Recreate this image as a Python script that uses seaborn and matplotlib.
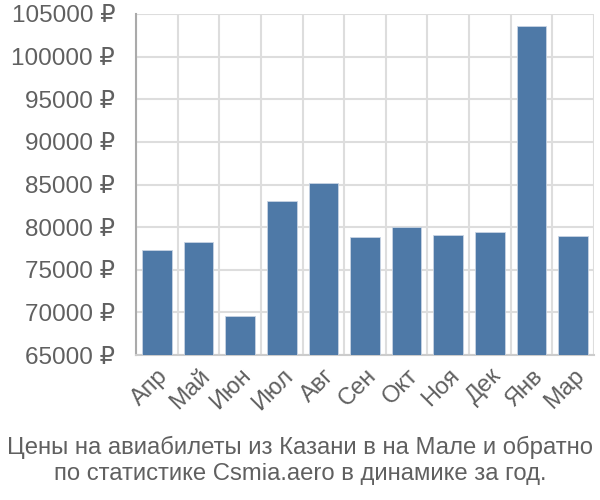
import matplotlib
matplotlib.use("Agg")
import matplotlib.pyplot as plt
import seaborn as sns
import pandas as pd
from matplotlib.ticker import FixedLocator

months = ["Апр", "Май", "Июн", "Июл", "Авг", "Сен", "Окт", "Ноя", "Дек", "Янв", "Мар"]
prices = [77300, 78270, 69540, 83040, 85120, 78860, 79960, 79130, 79400, 103600, 78970]
yticks = [65000, 70000, 75000, 80000, 85000, 90000, 95000, 100000, 105000]
title_lines = ["Цены на авиабилеты из Казани в на Мале и обратно",
               "по статистике Csmia.aero в динамике за год."]

sns.set_style("white")
plt.rcParams['font.family'] = ['Liberation Sans', 'DejaVu Sans']

df = pd.DataFrame({"month": months, "price": prices})

fig = plt.figure(figsize=(6, 5), dpi=100)
ax = fig.add_axes([0.2267, 0.29, 0.7633, 0.682])

sns.barplot(data=df, x="month", y="price", color="#4e79a7", saturation=1,
            width=0.71, ax=ax, edgecolor="#c8d4e3", linewidth=0.6, zorder=3)

ax.set_ylim(65000, 105000)
ax.set_xlim(-0.5, len(months) - 0.5)
ax.set_yticks(yticks)
ax.set_yticklabels([f"{v} ₽" for v in yticks])
ax.tick_params(axis='y', length=0, pad=15, labelsize=17.5, labelcolor="#606060")
ax.yaxis.grid(True, color="#dddddd", linewidth=1.5, zorder=0)

bounds = [i - 0.5 for i in range(len(months) + 1)]
ax.xaxis.set_minor_locator(FixedLocator(bounds))
ax.xaxis.grid(True, which='minor', color="#dddddd", linewidth=1.5, zorder=0)
ax.tick_params(axis='x', which='minor', length=18, width=1.5, color="#dddddd")
ax.tick_params(axis='x', which='major', length=0, pad=7, labelsize=17, labelcolor="#606060")
for lab in ax.get_xticklabels():
    lab.set_rotation(45)
    lab.set_ha('right')
    lab.set_rotation_mode('anchor')

ax.set_xlabel("")
ax.set_ylabel("")
for s in ["top", "right"]:
    ax.spines[s].set_visible(False)
ax.spines["bottom"].set_color("#cccccc")
ax.spines["bottom"].set_linewidth(1.5)
ax.spines["left"].set_color("#aaaaaa")
ax.spines["left"].set_linewidth(1.5)

fig.text(0.5, 0.105, title_lines[0], ha='center', va='center', fontsize=17.2, color="#606060")
fig.text(0.5, 0.052, title_lines[1], ha='center', va='center', fontsize=17.2, color="#606060")

fig.savefig("out.png", dpi=100)
